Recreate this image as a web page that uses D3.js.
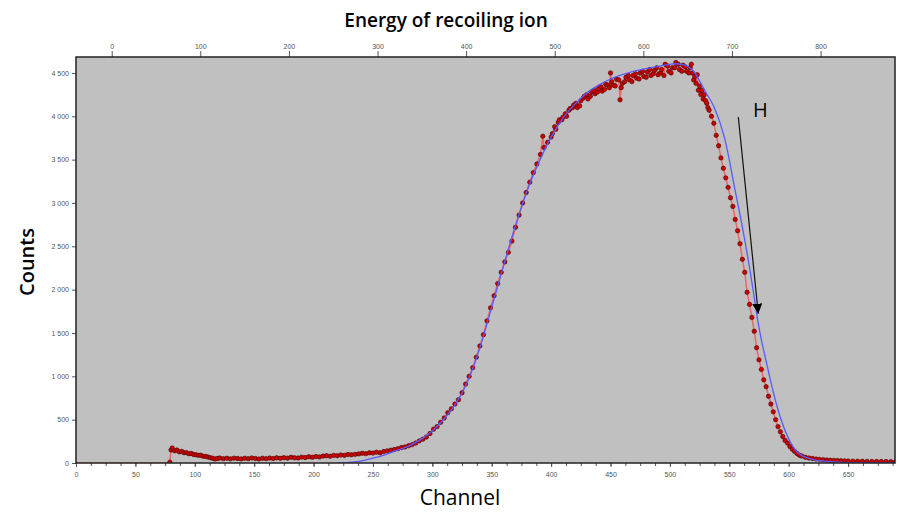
<!DOCTYPE html>
<html>
<head>
<meta charset="utf-8">
<script src="https://cdn.jsdelivr.net/npm/d3@7"></script>
<style>
  body { margin: 0; background: #fff; }
  .tick text { font-family: "Liberation Sans", Arial, sans-serif; font-size: 7px; fill: #555; }
  .tick line { stroke: #555; }
  .title { font-family: "Open Sans", sans-serif; fill: #000; }
</style>
</head>
<body>
<div id="chart"></div>
<script>
// measured spectrum: [channel, counts]
const measured = [
  [0,0],[8,0],[16,0],[24,0],[32,0],[40,0],[48,0],[56,0],[64,0],[72,0],[78,0],
  [79,10],[80,150],[81,173],[83,140],[85,150],[87,128],[89,134],[91,118],[93,120],[95,107],
  [97,110],[99,98],[101,95],[103,88],[105,90],[107,78],[109,76],[111,70],[113,62],[115,55],
  [117,46],[119,52],[121,58],[124,50],[127,55],[130,48],[133,56],[136,52],[139,47],[142,55],
  [145,50],[148,58],[151,52],[154,46],[157,55],[160,50],[163,57],[166,52],[169,60],[172,54],
  [175,62],[178,56],[181,66],[184,60],[187,58],[190,68],[193,63],[196,72],[199,66],[202,75],
  [205,70],[208,80],[211,84],[214,78],[217,88],[220,84],[223,92],[226,88],[229,98],[232,95],
  [235,100],[238,105],[241,112],[244,108],[247,118],[250,115],[253,125],[256,118],[259,132],
  [262,140],[265,148],[268,155],[271,165],[274,178],[277,185],[280,200],[283,212],[286,230],
  [289,255],[292,275],[295,300],[298,340],[301,390],[304,420],[307,470],[310,520],[313,580],
  [316,625],[319,680],[322,730],[325,810],[328,910],[331,1000],[334,1100],[337,1220],[340,1350],
  [343,1480],[346,1640],[349,1790],[352,1930],[355,2070],[358,2200],[361,2320],[364,2430],
  [367,2560],[370,2720],[373,2860],[376,3000],[379,3120],[382,3240],[385,3350],[388,3450],
  [391,3560],[393,3770],[394,3640],[397,3700],[400,3760],[401,3800],[403,3880],[404,3850],
  [406,3930],[407,3960],[409,3960],[410,3990],[412,4030],[413,4000],[415,4070],[416,4090],
  [418,4100],[419,4130],[421,4150],[422,4100],[424,4120],[425,4180],[427,4210],[428,4230],
  [430,4250],[431,4200],[433,4230],[434,4280],[436,4300],[437,4260],[439,4280],[440,4320],
  [442,4340],[443,4290],[445,4310],[446,4370],[448,4360],[449,4330],[450,4500],[451,4400],
  [452,4360],[454,4350],[455,4430],[457,4420],[458,4190],[459,4330],[460,4380],[462,4400],
  [463,4450],[465,4470],[466,4420],[468,4400],[469,4470],[471,4490],[472,4440],[474,4430],
  [475,4500],[477,4520],[478,4460],[480,4450],[481,4510],[483,4540],[484,4470],[486,4490],
  [487,4530],[489,4560],[490,4480],[492,4500],[493,4540],[495,4470],[496,4600],[498,4580],
  [499,4520],[501,4500],[502,4560],[504,4560],[505,4620],[507,4600],[508,4540],[510,4520],
  [511,4590],[513,4570],[514,4520],[516,4500],[517,4560],[518,4600],[519,4500],[520,4420],
  [521,4460],[522,4380],[523,4480],[524,4300],[525,4350],[526,4250],[527,4300],[528,4200],
  [529,4250],[530,4180],[531,4150],[532,4100],[533,4070],[535,4000],[537,3920],
  [539,3780],[541,3660],[543,3520],[545,3400],[547,3290],[549,3180],[551,3060],[553,2960],
  [555,2810],[557,2680],[559,2530],[561,2350],[563,2200],[565,1970],[567,1830],[569,1680],
  [571,1520],[573,1330],[575,1190],[577,1080],[579,960],[581,880],[583,770],[585,680],
  [587,590],[589,500],[591,420],[593,360],[595,305],[597,260],[599,230],[601,190],[603,160],
  [605,134],[607,110],[609,90],[611,80],[614,66],[617,58],[620,52],[623,46],[626,42],[629,38],
  [632,34],[635,32],[638,30],[641,28],[644,26],[647,25],[650,24],[654,22],[658,21],[662,20],
  [666,19],[670,18],[674,18],[678,17],[682,17],[686,16],[690,16]
];

// simulated fit: [channel, counts]
const fitted = [
  [220,0],[230,8],[240,22],[250,55],[260,95],[270,145],[280,195],[290,270],[300,370],
  [310,510],[320,690],[330,950],[340,1330],[350,1800],[360,2280],[370,2740],[380,3150],
  [390,3480],[400,3760],[410,3980],[420,4140],[430,4270],[440,4360],[450,4430],[460,4480],
  [470,4520],[480,4550],[490,4575],[500,4600],[505,4606],[510,4600],[515,4575],[520,4520],
  [526,4383],[530,4280],[537,4113],[546,3750],[555,3140],[563,2575],[570,2000],[574,1640],
  [582,1114],[591,615],[599,307],[608,115],[619,46],[633,18],[650,3],[670,0],[690,0]
];

const channelTicks = [0, 50, 100, 150, 200, 250, 300, 350, 400, 450, 500, 550, 600, 650];
const energyTicks = [0, 100, 200, 300, 400, 500, 600, 700, 800];
const countTicks = [0, 500, 1000, 1500, 2000, 2500, 3000, 3500, 4000, 4500];

const marker = { label: "H", text: [570, 3990], from: [557.6, 3990], to: [574.4, 1722] };

const width = 899, height = 512;
const margin = { top: 57, right: 4, bottom: 49, left: 76 };
const w = width - margin.left - margin.right;
const h = height - margin.top - margin.bottom;

const svg = d3.select("#chart").append("svg")
  .attr("width", width)
  .attr("height", height);

const x = d3.scaleLinear().domain([0, 689.5]).range([0, w]);
const xTop = d3.scaleLinear().domain([-40.3, 884]).range([0, w]);
const y = d3.scaleLinear().domain([0, 4684]).range([h, 0]);

const fmt = d3.formatLocale({ decimal: ".", thousands: " ", grouping: [3], currency: ["", ""] }).format(",d");

const g = svg.append("g").attr("transform", `translate(${margin.left},${margin.top})`);

g.append("rect")
  .attr("width", w).attr("height", h)
  .attr("fill", "#c0c0c0");

svg.append("defs").append("clipPath").attr("id", "clip")
  .append("rect").attr("width", w).attr("height", h);

// axes
const minor = g.append("g")
  .attr("transform", `translate(0,${h})`)
  .call(d3.axisBottom(x).tickValues(d3.range(0, 690, 12.5)).tickSize(3).tickFormat(""));
minor.select(".domain").remove();

const xAxis = g.append("g")
  .attr("transform", `translate(0,${h})`)
  .call(d3.axisBottom(x).tickValues(channelTicks).tickSize(4).tickPadding(5));
xAxis.select(".domain").remove();

const topAxis = g.append("g")
  .call(d3.axisTop(xTop).tickValues(energyTicks).tickSize(6).tickPadding(2));
topAxis.select(".domain").remove();

const yAxis = g.append("g")
  .call(d3.axisLeft(y).tickValues(countTicks).tickFormat(fmt).tickSize(4).tickPadding(3));
yAxis.select(".domain").remove();

// data
const plot = g.append("g").attr("clip-path", "url(#clip)");

const line = d3.line().x(d => x(d[0])).y(d => y(d[1]));

plot.append("path")
  .datum(measured)
  .attr("fill", "none")
  .attr("stroke", "#ff4040")
  .attr("stroke-opacity", 0.7)
  .attr("stroke-width", 1.5)
  .attr("d", line);

plot.selectAll(".pt")
  .data(measured.filter(d => d[0] >= 79))
  .enter().append("circle")
  .attr("class", "pt")
  .attr("cx", d => x(d[0]))
  .attr("cy", d => y(d[1]))
  .attr("r", 2.2)
  .attr("fill", "#cc0000")
  .attr("stroke", "#4a0000")
  .attr("stroke-width", 0.6);

plot.append("path")
  .datum(fitted)
  .attr("fill", "none")
  .attr("stroke", "#5a5aff")
  .attr("stroke-width", 1.3)
  .attr("d", d3.line().curve(d3.curveMonotoneX).x(d => x(d[0])).y(d => y(d[1])));

// frame
g.append("rect")
  .attr("width", w).attr("height", h)
  .attr("fill", "none")
  .attr("stroke", "#222")
  .attr("stroke-width", 1.5);

// annotation arrow
svg.select("defs").append("marker")
  .attr("id", "head")
  .attr("viewBox", "0 0 10 10")
  .attr("refX", 10).attr("refY", 5)
  .attr("markerWidth", 10).attr("markerHeight", 10)
  .attr("markerUnits", "userSpaceOnUse")
  .attr("orient", "auto")
  .append("path").attr("d", "M0,0L10,5L0,10Z").attr("fill", "#000");

g.append("line")
  .attr("x1", x(marker.from[0])).attr("y1", y(marker.from[1]))
  .attr("x2", x(marker.to[0])).attr("y2", y(marker.to[1]))
  .attr("stroke", "#111")
  .attr("stroke-width", 1.2)
  .attr("marker-end", "url(#head)");

g.append("text")
  .attr("class", "title")
  .attr("x", x(marker.text[0]))
  .attr("y", y(marker.text[1]))
  .attr("font-size", 20)
  .text(marker.label);

// titles
svg.append("text")
  .attr("class", "title")
  .attr("x", 446).attr("y", 27)
  .attr("text-anchor", "middle")
  .attr("font-size", 19)
  .attr("font-weight", 600)
  .text("Energy of recoiling ion");

svg.append("text")
  .attr("class", "title")
  .attr("x", 460).attr("y", 505)
  .attr("text-anchor", "middle")
  .attr("font-size", 21)
  .text("Channel");

svg.append("text")
  .attr("class", "title")
  .attr("transform", "translate(34,262) rotate(-90)")
  .attr("text-anchor", "middle")
  .attr("font-size", 20)
  .attr("font-weight", 600)
  .text("Counts");
</script>
</body>
</html>
